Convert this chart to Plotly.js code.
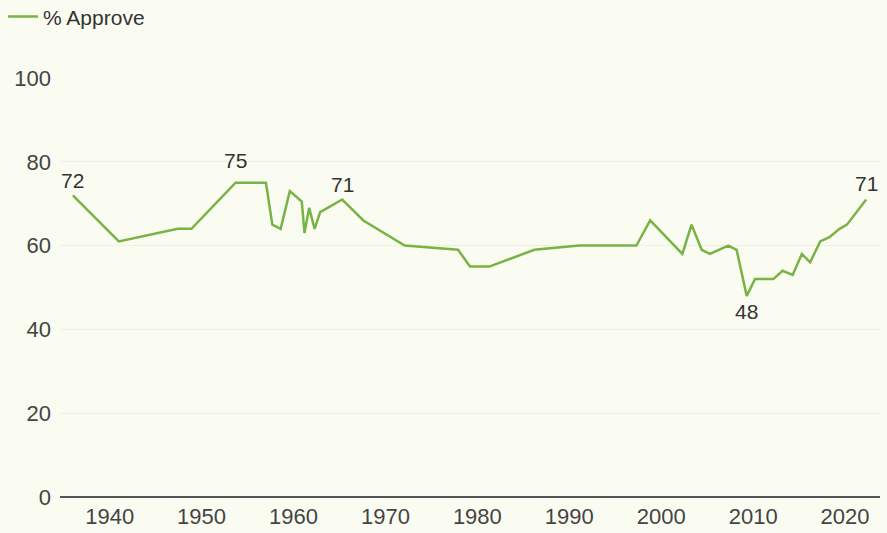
<!DOCTYPE html>
<html>
<head>
<meta charset="utf-8">
<script src="https://cdn.plot.ly/plotly-3.0.1.min.js"></script>
<style>
html,body{margin:0;padding:0;background:#fbfcf1;}
#chart{width:887px;height:533px;}
</style>
</head>
<body>
<div id="chart"></div>
<script>
const seriesName = "% Approve";
const years = [1936, 1941, 1947.4, 1948.9, 1953.7, 1957, 1957.7, 1958.6, 1959.6, 1960.9, 1961.2, 1961.7, 1962.3, 1962.9, 1965.3, 1967.6, 1972.1, 1977.9, 1979.2, 1981.3, 1986.2, 1991.1, 1997.3, 1998.8, 2002.3, 2003.3, 2004.4, 2005.3, 2007.3, 2008.2, 2009.3, 2010.2, 2012.2, 2013.2, 2014.3, 2015.3, 2016.2, 2017.3, 2018.3, 2019.4, 2020.2, 2022.3];
const approve = [72, 61, 64, 64, 75, 75, 65, 64, 73, 70.5, 63, 69, 64, 68, 71, 66, 60, 59, 55, 55, 59, 60, 60, 66, 58, 65, 59, 58, 60, 59, 48, 52, 52, 54, 53, 58, 56, 61, 62, 64, 65, 71];
const xTicks = [1940, 1950, 1960, 1970, 1980, 1990, 2000, 2010, 2020];
const yTicks = [0, 20, 40, 60, 80, 100];
// labelled points: index into arrays, and position above/below
const labelIdx = [0, 4, 14, 30, 41];
const labelPos = ["above", "above", "above", "below", "above"];
const labelShift = [1, 9, 2, -2, 3];

const green = "#79b345";
const annotations = labelIdx.map((i, k) => ({
  x: years[i], y: approve[i], xref: "x", yref: "y",
  text: String(approve[i]), showarrow: false,
  yanchor: labelPos[k] === "above" ? "bottom" : "top",
  yshift: labelShift[k],
  font: {family: "Liberation Sans, Arial, sans-serif", size: 21, color: "#333"}
}));

Plotly.newPlot("chart", [{
  x: years, y: approve, type: "scatter", mode: "lines", name: seriesName,
  line: {color: green, width: 2.5}, showlegend: true
}], {
  width: 887, height: 533,
  paper_bgcolor: "#fbfcf1", plot_bgcolor: "#fbfcf1",
  margin: {l: 60, r: 7, t: 78, b: 36, autoexpand: false},
  font: {family: "Liberation Sans, Arial, sans-serif", size: 22, color: "#444"},
  xaxis: {range: [1934.6, 2023.8], tickvals: xTicks, ticktext: xTicks.map(String), automargin: false,
          showgrid: false, zeroline: false, showline: false, ticks: "", ticklabelstandoff: 4,
          tickfont: {size: 22, color: "#444"}},
  yaxis: {range: [0, 100], tickvals: yTicks, ticktext: yTicks.map(String), automargin: false,
          showgrid: true, gridcolor: "#edf0e2", gridwidth: 1, zeroline: true, zerolinecolor: "#555", zerolinewidth: 1.5,
          showline: false, ticks: "", ticklabelstandoff: 8, tickfont: {size: 22, color: "#444"}},
  showlegend: true,
  legend: {x: -0.0695, y: 1.146, xanchor: "left", yanchor: "middle",
           font: {size: 21, color: "#333"}, bgcolor: "rgba(0,0,0,0)"},
  annotations: annotations
}, {displayModeBar: false, staticPlot: true});
</script>
</body>
</html>
